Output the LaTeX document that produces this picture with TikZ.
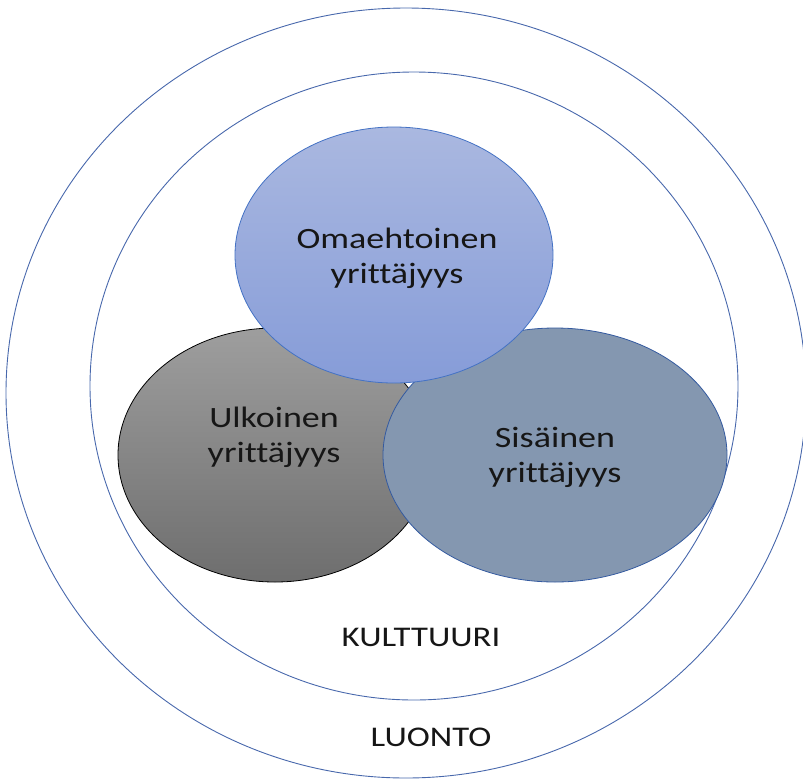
\documentclass[tikz,border=0pt]{standalone}
\usepackage{fontspec}
\setmainfont{Carlito}[Ligatures=CommonOff]
\usetikzlibrary{shapes.geometric}

\definecolor{ringblue}{RGB}{72,104,172}
\definecolor{topfillA}{RGB}{170,184,224}
\definecolor{topfillB}{RGB}{134,156,216}
\definecolor{topline}{RGB}{68,114,196}
\definecolor{grayA}{RGB}{158,158,158}
\definecolor{grayB}{RGB}{110,110,110}
\definecolor{sisfill}{RGB}{132,151,176}
\definecolor{sisline}{RGB}{52,90,160}
\definecolor{txtcol}{RGB}{22,22,22}

\tikzset{
  ring/.style={ellipse, draw=ringblue, line width=0.9pt, inner sep=0pt},
  blob/.style={ellipse, inner sep=0pt, line width=0.8pt},
  txt/.style={align=center, text=txtcol, xscale=1.22,
    font=\fontsize{29.5}{35}\selectfont},
}

\begin{document}
\begin{tikzpicture}[x=1pt,y=-1pt]
  \useasboundingbox (0,0) rectangle (803,780);
  \clip (0,0) rectangle (803,780);

  % Renkaat: luonto ja kulttuuri
  \node[ring, minimum width=800, minimum height=770] (luonto) at (406,393) {};
  \node[ring, minimum width=648, minimum height=628] (kulttuuri) at (414,386) {};

  % Kolme yrittäjyyden muotoa
  \node[blob, draw=black, top color=grayA, bottom color=grayB,
        minimum width=314, minimum height=254] (ulk) at (275,455) {};
  \node[blob, draw=sisline, fill=sisfill,
        minimum width=344, minimum height=254] (sis) at (555,455) {};
  \node[blob, draw=topline, top color=topfillA, bottom color=topfillB,
        minimum width=318, minimum height=256] (oma) at (394,255) {};

  % Tekstit
  \node[txt] (omaT) at (397,258) {Omaehtoinen\\yrittäjyys};
  \node[txt] (ulkT) at (274,437) {Ulkoinen\\yrittäjyys};
  \node[txt] (sisT) at (555,457) {Sisäinen\\yrittäjyys};
  \node[txt, font=\fontsize{28.5}{34}\selectfont] (kultT) at (421,637) {KULTTUURI};
  \node[txt, font=\fontsize{28.5}{34}\selectfont] (luontoT) at (431,737) {LUONTO};
\end{tikzpicture}
\end{document}
